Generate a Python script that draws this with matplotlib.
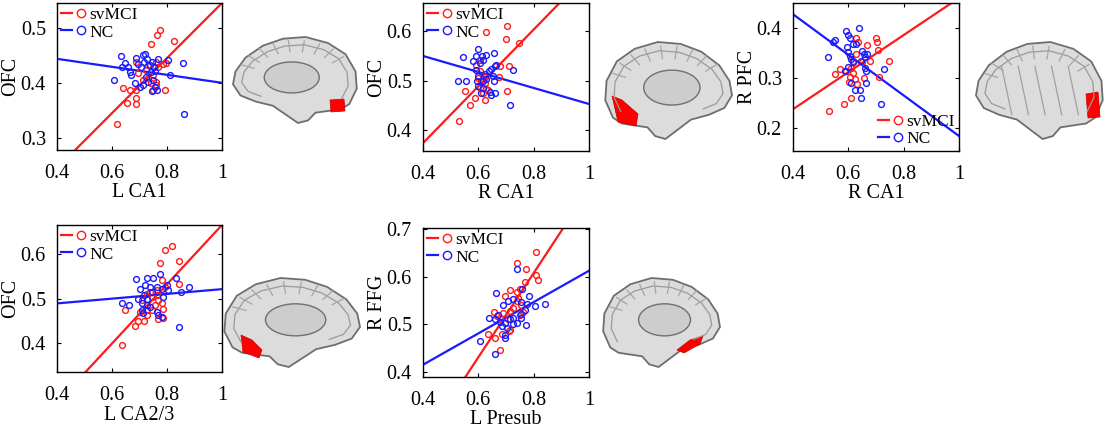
import numpy as np
import matplotlib
matplotlib.use("Agg")
import matplotlib.pyplot as plt
from matplotlib.lines import Line2D
from matplotlib.legend_handler import HandlerTuple
from matplotlib.patches import Ellipse, Polygon

plt.rcParams['font.family'] = ['Liberation Serif', 'DejaVu Serif']

RED = '#ff1a1a'
BLUE = '#1a1aff'

# ---- panel 1: L CA1 vs OFC ----
p1_red_x = [0.773, 0.765, 0.825, 0.743, 0.798, 0.785, 0.761, 0.731, 0.688, 0.695, 0.725, 0.749, 0.761,
            0.761, 0.749, 0.743, 0.713, 0.791, 0.640, 0.667, 0.688, 0.688, 0.688, 0.655, 0.618, 0.767, 0.731]
p1_red_y = [0.496, 0.487, 0.476, 0.470, 0.436, 0.434, 0.438, 0.432, 0.438, 0.418, 0.423, 0.414, 0.402,
            0.396, 0.387, 0.399, 0.405, 0.387, 0.390, 0.387, 0.387, 0.372, 0.361, 0.364, 0.325, 0.429, 0.408]
p1_blue_x = [0.607, 0.634, 0.646, 0.637, 0.664, 0.668, 0.658, 0.682, 0.688, 0.713, 0.721, 0.716, 0.728,
             0.737, 0.747, 0.751, 0.755, 0.767, 0.741, 0.725, 0.731, 0.713, 0.701, 0.749, 0.756, 0.747,
             0.764, 0.804, 0.810, 0.858, 0.861, 0.707, 0.695]
p1_blue_y = [0.406, 0.448, 0.436, 0.428, 0.420, 0.414, 0.429, 0.400, 0.446, 0.450, 0.452, 0.438, 0.444,
             0.432, 0.438, 0.429, 0.422, 0.444, 0.420, 0.411, 0.402, 0.396, 0.392, 0.405, 0.393, 0.385,
             0.387, 0.442, 0.414, 0.436, 0.343, 0.429, 0.435]
p1_red_fit = [0.245, 0.545]     # fitted line at x = 0.4 and x = 1.0
p1_blue_fit = [0.4436, 0.400]

# ---- panel 2: R CA1 vs OFC ----
p2_red_x = [0.705, 0.699, 0.748, 0.629, 0.711, 0.678, 0.675, 0.623, 0.605, 0.611, 0.623, 0.605, 0.629,
            0.617, 0.623, 0.587, 0.569, 0.551, 0.530, 0.702, 0.635, 0.599, 0.593, 0.605]
p2_red_y = [0.610, 0.584, 0.577, 0.598, 0.530, 0.529, 0.507, 0.507, 0.519, 0.499, 0.495, 0.485, 0.483,
            0.475, 0.462, 0.465, 0.450, 0.480, 0.418, 0.480, 0.482, 0.505, 0.532, 0.542]
p2_blue_x = [0.599, 0.545, 0.581, 0.593, 0.615, 0.629, 0.656, 0.605, 0.617, 0.593, 0.599, 0.623, 0.647,
             0.660, 0.665, 0.639, 0.652, 0.629, 0.617, 0.596, 0.599, 0.617, 0.608, 0.641, 0.660, 0.645,
             0.527, 0.554, 0.657, 0.726, 0.716]
p2_blue_y = [0.565, 0.547, 0.540, 0.550, 0.550, 0.551, 0.556, 0.536, 0.542, 0.522, 0.510, 0.514, 0.524,
             0.529, 0.531, 0.519, 0.509, 0.504, 0.499, 0.499, 0.490, 0.485, 0.475, 0.478, 0.475, 0.472,
             0.500, 0.500, 0.500, 0.522, 0.450]
p2_red_fit = [0.374, 0.718]
p2_blue_fit = [0.550, 0.453]

# ---- panel 3: R CA1 vs R PFC ----
p3_red_x = [0.530, 0.583, 0.608, 0.632, 0.623, 0.605, 0.551, 0.569, 0.593, 0.617, 0.611, 0.617, 0.629,
            0.635, 0.669, 0.699, 0.705, 0.708, 0.680, 0.746, 0.711, 0.657, 0.651, 0.603, 0.629]
p3_red_y = [0.234, 0.249, 0.261, 0.288, 0.298, 0.303, 0.308, 0.318, 0.315, 0.311, 0.321, 0.335, 0.381,
            0.372, 0.367, 0.381, 0.372, 0.356, 0.335, 0.335, 0.303, 0.301, 0.332, 0.293, 0.348]
p3_blue_x = [0.527, 0.551, 0.545, 0.591, 0.599, 0.605, 0.639, 0.629, 0.617, 0.596, 0.599, 0.605, 0.609,
             0.617, 0.651, 0.657, 0.666, 0.660, 0.647, 0.660, 0.663, 0.599, 0.587, 0.608, 0.623, 0.641,
             0.665, 0.645, 0.728, 0.717]
p3_blue_y = [0.342, 0.377, 0.372, 0.394, 0.387, 0.381, 0.401, 0.368, 0.368, 0.362, 0.352, 0.345, 0.338,
             0.332, 0.355, 0.348, 0.348, 0.342, 0.335, 0.321, 0.315, 0.323, 0.315, 0.291, 0.276, 0.276,
             0.291, 0.261, 0.318, 0.248]
p3_red_fit = [0.2376, 0.460]
p3_blue_fit = [0.4275, 0.184]

# ---- panel 4: L CA2/3 vs OFC ----
p4_red_x = [0.817, 0.793, 0.775, 0.842, 0.842, 0.793, 0.763, 0.738, 0.726, 0.744, 0.763, 0.769, 0.757,
            0.781, 0.787, 0.787, 0.769, 0.744, 0.726, 0.708, 0.702, 0.726, 0.696, 0.716, 0.684, 0.635,
            0.647, 0.781]
p4_red_y = [0.617, 0.609, 0.580, 0.585, 0.532, 0.526, 0.519, 0.515, 0.511, 0.504, 0.508, 0.496, 0.485,
            0.489, 0.477, 0.457, 0.453, 0.474, 0.475, 0.496, 0.470, 0.462, 0.450, 0.449, 0.438, 0.396,
            0.475, 0.541]
p4_blue_x = [0.687, 0.726, 0.750, 0.775, 0.833, 0.881, 0.850, 0.843, 0.635, 0.663, 0.702, 0.696, 0.708,
             0.720, 0.726, 0.738, 0.708, 0.714, 0.726, 0.769, 0.763, 0.781, 0.787, 0.799, 0.805, 0.781,
             0.738, 0.763, 0.744, 0.716]
p4_blue_y = [0.543, 0.545, 0.547, 0.556, 0.547, 0.526, 0.515, 0.436, 0.489, 0.485, 0.521, 0.500, 0.489,
             0.530, 0.500, 0.481, 0.474, 0.468, 0.485, 0.464, 0.470, 0.459, 0.504, 0.530, 0.519, 0.521,
             0.526, 0.526, 0.515, 0.508]
p4_red_fit = [0.266, 0.665]
p4_blue_fit = [0.489, 0.521]

# ---- panel 5: L Presub vs R FFG ----
p5_red_x = [0.810, 0.738, 0.774, 0.810, 0.816, 0.768, 0.714, 0.738, 0.750, 0.696, 0.738, 0.756, 0.762,
            0.750, 0.726, 0.714, 0.690, 0.666, 0.656, 0.678, 0.708, 0.714, 0.711, 0.684, 0.660, 0.635,
            0.680, 0.744]
p5_red_y = [0.651, 0.628, 0.617, 0.603, 0.593, 0.589, 0.572, 0.567, 0.574, 0.560, 0.549, 0.540, 0.526,
            0.519, 0.535, 0.528, 0.525, 0.518, 0.526, 0.514, 0.511, 0.489, 0.486, 0.479, 0.472, 0.479,
            0.447, 0.556]
p5_blue_x = [0.738, 0.758, 0.663, 0.783, 0.708, 0.690, 0.726, 0.756, 0.777, 0.768, 0.804, 0.841, 0.639,
             0.660, 0.672, 0.678, 0.684, 0.696, 0.714, 0.726, 0.738, 0.726, 0.756, 0.774, 0.702, 0.696,
             0.696, 0.605, 0.660, 0.756]
p5_blue_y = [0.616, 0.575, 0.565, 0.560, 0.549, 0.540, 0.553, 0.546, 0.542, 0.530, 0.539, 0.542, 0.514,
             0.511, 0.519, 0.505, 0.496, 0.504, 0.511, 0.514, 0.504, 0.500, 0.521, 0.498, 0.493, 0.477,
             0.472, 0.465, 0.439, 0.514]
p5_red_fit = [0.255, 0.784]
p5_blue_fit = [0.4157, 0.6125]

fit_x = [0.4, 1.0]

panels = [
    dict(rx=p1_red_x, ry=p1_red_y, bx=p1_blue_x, by=p1_blue_y, rf=p1_red_fit, bf=p1_blue_fit,
         xlabel='L CA1', ylabel='OFC', ylim=(0.278, 0.545), yticks=[0.3, 0.4, 0.5],
         rect=[57, 3, 222, 150], leg='upper left'),
    dict(rx=p2_red_x, ry=p2_red_y, bx=p2_blue_x, by=p2_blue_y, rf=p2_red_fit, bf=p2_blue_fit,
         xlabel='R CA1', ylabel='OFC', ylim=(0.358, 0.657), yticks=[0.4, 0.5, 0.6],
         rect=[423, 3, 589, 151], leg='upper left'),
    dict(rx=p3_red_x, ry=p3_red_y, bx=p3_blue_x, by=p3_blue_y, rf=p3_red_fit, bf=p3_blue_fit,
         xlabel='R CA1', ylabel='R PFC', ylim=(0.154, 0.45), yticks=[0.2, 0.3, 0.4],
         rect=[793, 3, 959, 151], leg='lower right'),
    dict(rx=p4_red_x, ry=p4_red_y, bx=p4_blue_x, by=p4_blue_y, rf=p4_red_fit, bf=p4_blue_fit,
         xlabel='L CA2/3', ylabel='OFC', ylim=(0.335, 0.665), yticks=[0.4, 0.5, 0.6],
         rect=[57, 225, 222, 372], leg='upper left'),
    dict(rx=p5_red_x, ry=p5_red_y, bx=p5_blue_x, by=p5_blue_y, rf=p5_red_fit, bf=p5_blue_fit,
         xlabel='L Presub', ylabel='R FFG', ylim=(0.39, 0.702), yticks=[0.4, 0.5, 0.6, 0.7],
         rect=[423, 228, 589, 377], leg='upper left'),
]

W, H = 1111, 429
fig = plt.figure(figsize=(W / 100, H / 100), dpi=100)

for p in panels:
    x0, y0, x1, y1 = p['rect']
    aw, ah = x1 - x0, y1 - y0
    ax = fig.add_axes([x0 / W, 1 - y1 / H, aw / W, ah / H])
    ax.plot(fit_x, p['rf'], color=RED, lw=1.6)
    ax.plot(fit_x, p['bf'], color=BLUE, lw=1.6)
    ax.plot(p['rx'], p['ry'], 'o', mfc='none', mec=RED, ms=4.2, mew=1.0)
    ax.plot(p['bx'], p['by'], 'o', mfc='none', mec=BLUE, ms=4.2, mew=1.0)
    ax.set_xlim(0.4, 1.0)
    ax.set_ylim(*p['ylim'])
    ax.set_xticks([0.4, 0.6, 0.8, 1.0])
    ax.set_xticklabels(['0.4', '0.6', '0.8', '1'])
    ax.set_yticks(p['yticks'])
    ax.set_yticklabels([f'{t:.1f}' for t in p['yticks']])
    ax.tick_params(direction='in', length=3, width=0.8, labelsize=14.5,
                   top=True, right=True)
    ax.tick_params(axis='x', pad=10)
    ax.tick_params(axis='y', pad=8)
    for s in ax.spines.values():
        s.set_linewidth(1.0)
    ax.set_xlabel(p['xlabel'], fontsize=14.5, va='center')
    ax.xaxis.set_label_coords(0.5, -43 / ah)
    ax.set_ylabel(p['ylabel'], fontsize=14.5, va='center')
    ax.yaxis.set_label_coords(-46 / aw, 0.5)

    h_red = (Line2D([], [], color=RED, lw=1.6), Line2D([], [], ls='none', marker='o', mfc='none', mec=RED, ms=6))
    h_blue = (Line2D([], [], color=BLUE, lw=1.6), Line2D([], [], ls='none', marker='o', mfc='none', mec=BLUE, ms=6))
    ax.legend([h_red, h_blue], ['svMCI', 'NC'], loc=p['leg'], frameon=False, fontsize=12.5,
              handler_map={tuple: HandlerTuple(ndivide=None, pad=0.25)},
              handlelength=1.45, handletextpad=0.15, borderaxespad=0.05, borderpad=0.2,
              labelspacing=0.05)

# ---- brain renderings (schematic) ----
# outline of a medial hemisphere with the frontal pole on the right, unit box
brain_outline = [(0.93, 0.78), (0.99, 0.6), (0.98, 0.4), (0.9, 0.2), (0.76, 0.07), (0.58, 0.0),
                 (0.4, 0.02), (0.24, 0.1), (0.1, 0.24), (0.02, 0.4), (0.0, 0.55), (0.06, 0.68),
                 (0.18, 0.75), (0.32, 0.8), (0.42, 0.9), (0.52, 1.0), (0.6, 0.97), (0.66, 0.88),
                 (0.76, 0.86), (0.86, 0.84)]
brains = [
    dict(box=[233, 37, 358, 123], flip=False, medial=True,
         red=[(330, 100), (344, 99), (345, 111), (331, 112)]),
    dict(box=[604, 42, 732, 139], flip=True, medial=True,
         red=[(612, 96), (622, 100), (638, 114), (636, 126), (618, 122)]),
    dict(box=[976, 42, 1104, 139], flip=False, medial=False,
         red=[(1086, 94), (1098, 92), (1100, 117), (1088, 118)]),
    dict(box=[223, 278, 360, 367], flip=True, medial=True,
         red=[(241, 335), (252, 340), (262, 350), (259, 358), (243, 352)]),
    dict(box=[602, 278, 720, 367], flip=True, medial=True,
         red=[(677, 350), (690, 340), (703, 336), (700, 344), (684, 353)]),
]
ov = fig.add_axes([0, 0, 1, 1], zorder=-1)
ov.set_xlim(0, W)
ov.set_ylim(H, 0)
ov.axis('off')
for b in brains:
    x0, y0, x1, y1 = b['box']
    w, h = x1 - x0, y1 - y0
    pts = [((1 - u) if b['flip'] else u, v) for u, v in brain_outline]
    poly = [(x0 + u * w, y0 + v * h) for u, v in pts]
    ov.add_patch(Polygon(poly, closed=True, fc='#dcdcdc', ec='#6e6e6e', lw=1.3))
    inner = [(x0 + (0.5 + (u - 0.5) * 0.86) * w, y0 + (0.45 + (v - 0.45) * 0.8) * h) for u, v in pts[:13]]
    ov.plot([q[0] for q in inner], [q[1] for q in inner], color='#9a9a9a', lw=0.9)
    # gyri strokes along the upper rim
    for k in range(9):
        t = 0.1 + 0.09 * k
        ang = np.pi * (1 - t)
        cx = x0 + w * (0.5 + 0.43 * np.cos(ang))
        cy = y0 + h * (0.45 - 0.38 * np.sin(ang))
        dx, dy = np.cos(ang) * w * 0.08, -np.sin(ang) * h * 0.1
        ov.plot([cx - dx, cx + dx * 0.3], [cy - dy, cy + dy * 0.3], color='#a5a5a5', lw=0.9)
    if b['medial']:
        cxx = x0 + w * (0.47 if not b['flip'] else 0.53)
        ov.add_patch(Ellipse((cxx, y0 + h * 0.47), w * 0.44, h * 0.36,
                             fc='#cdcdcd', ec='#707070', lw=1.0))
    else:
        for k in range(5):
            ov.plot([x0 + w * (0.2 + 0.13 * k), x0 + w * (0.28 + 0.13 * k)],
                    [y0 + h * 0.25, y0 + h * 0.75], color='#a0a0a0', lw=0.9)
    ov.add_patch(Polygon(b['red'], closed=True, fc='#ff0000', ec='#cc0000', lw=0.5))

fig.savefig('out.png', dpi=100)
